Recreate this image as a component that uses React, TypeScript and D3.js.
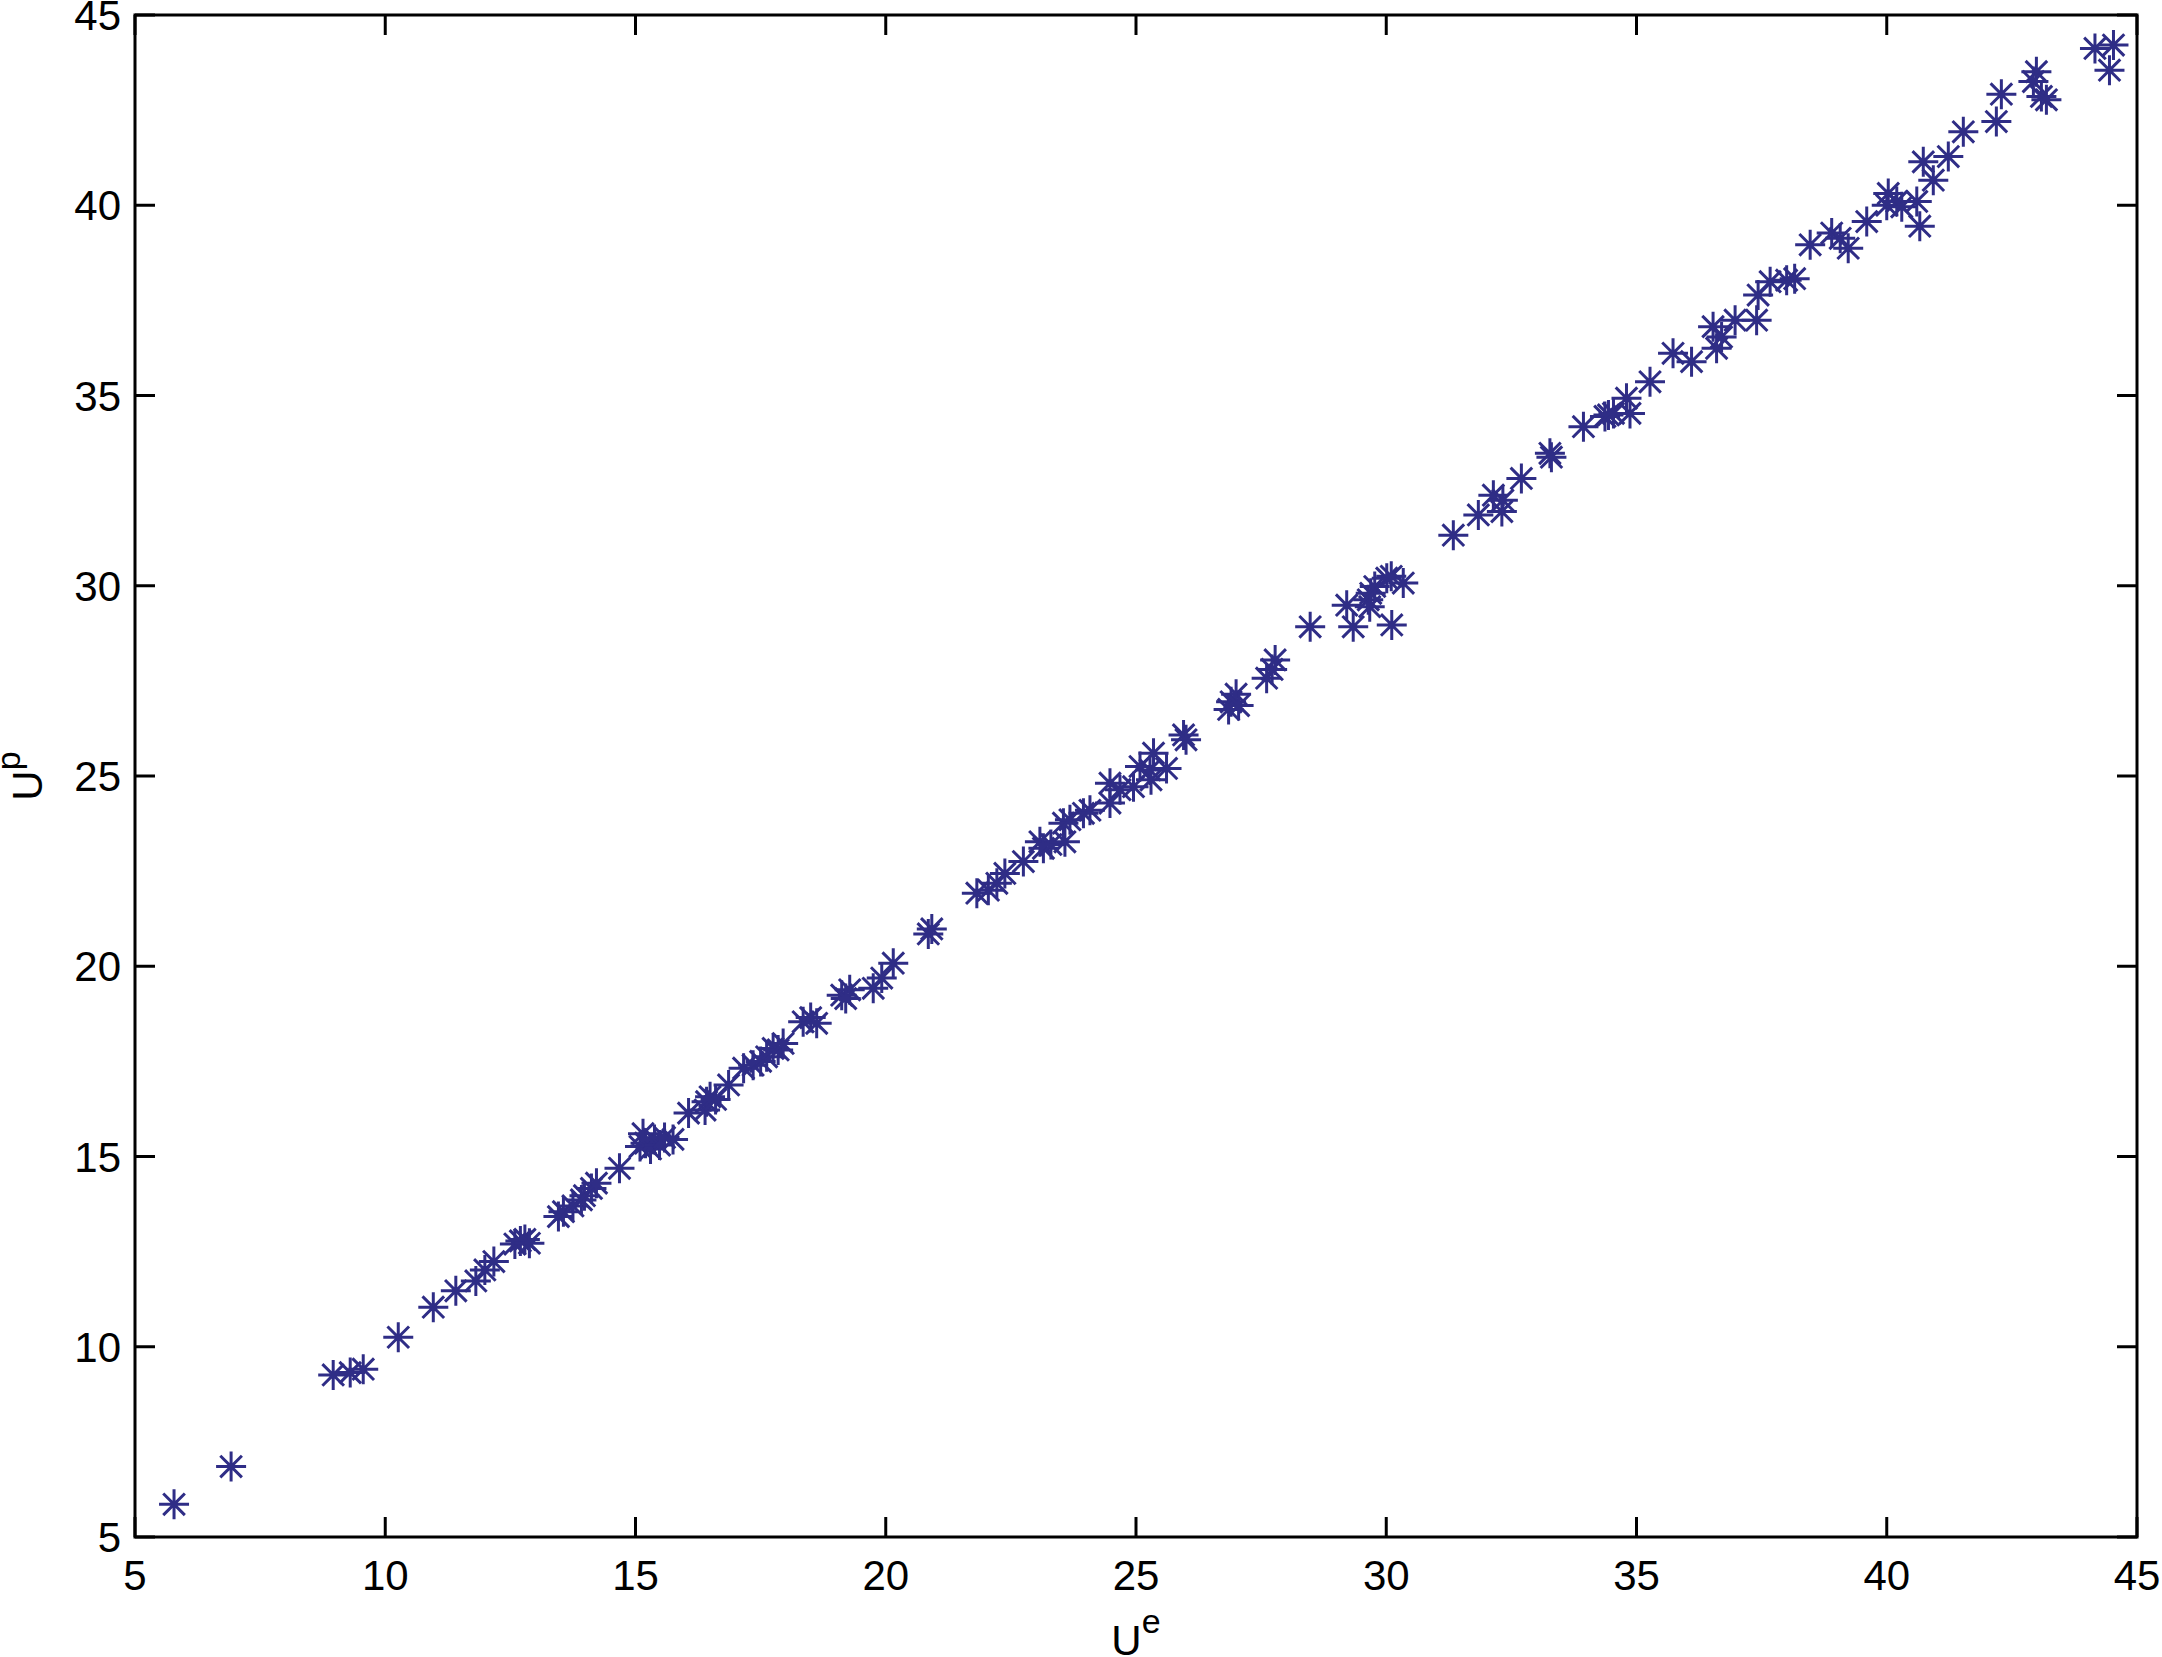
import React from "react";
import * as d3 from "d3";

const ue: number[] = [
  5.78, 6.92, 8.96, 9.30, 9.56, 10.26, 10.96, 11.41, 11.81, 11.99, 12.17, 12.59, 12.70, 12.79, 12.88,
  13.46, 13.56, 13.75, 13.92, 13.98, 14.12, 14.22, 14.68,
  15.09, 15.15, 15.20, 15.30, 15.38, 15.48, 15.58, 15.75, 16.06, 16.39, 16.42, 16.49, 16.60, 16.86,
  17.16, 17.35, 17.50, 17.62, 17.75, 17.85, 17.95, 18.35, 18.50, 18.62, 19.12, 19.28, 19.20, 19.75,
  19.92, 20.15, 20.85, 20.92, 21.82, 22.05, 22.22, 22.38, 22.75, 23.08, 23.15, 23.30, 23.58, 23.55,
  23.68, 23.95, 24.08, 24.48, 24.48, 24.68, 24.95, 25.08, 25.28, 25.35, 25.30, 25.61, 25.95, 26.00,
  26.85, 26.90, 27.00, 27.05, 27.61, 27.72, 27.78, 28.48, 29.21, 29.34, 29.64, 29.67, 29.69, 29.77,
  30.01, 30.10, 30.34, 30.11, 31.34, 31.84, 32.14, 32.31, 32.33, 32.70, 33.27, 33.30, 33.94, 34.37,
  34.44, 34.54, 34.80, 34.87, 35.27, 35.73, 36.10, 36.53, 36.60, 36.70, 36.97, 37.40, 37.43, 37.67,
  38.00, 38.16, 38.47, 38.90, 39.07, 39.23, 39.60, 40.03, 40.00, 40.20, 40.30, 40.60, 40.66, 40.73,
  40.93, 41.23, 41.53, 42.19, 42.29, 42.99, 42.93, 43.09, 43.19, 44.16, 44.53, 44.45,
];

const up: number[] = [
  5.86, 6.85, 9.26, 9.32, 9.41, 10.25, 11.04, 11.47, 11.73, 12.02, 12.24, 12.70, 12.78, 12.82, 12.72,
  13.42, 13.55, 13.70, 13.86, 13.97, 14.16, 14.30, 14.69,
  15.26, 15.60, 15.35, 15.20, 15.45, 15.30, 15.50, 15.45, 16.14, 16.22, 16.44, 16.57, 16.50, 16.88,
  17.32, 17.40, 17.50, 17.62, 17.84, 17.80, 17.97, 18.54, 18.65, 18.50, 19.24, 19.38, 19.15, 19.42,
  19.69, 20.08, 20.85, 20.98, 21.92, 22.00, 22.18, 22.44, 22.75, 23.27, 23.10, 23.20, 23.27, 23.76,
  23.85, 24.02, 24.10, 24.81, 24.29, 24.64, 24.72, 25.25, 25.16, 25.60, 24.90, 25.20, 26.08, 25.95,
  26.75, 26.95, 27.15, 26.85, 27.57, 27.80, 28.05, 28.92, 29.49, 28.92, 29.63, 29.45, 29.80, 29.98,
  30.20, 30.25, 30.07, 28.97, 31.33, 31.86, 32.38, 31.95, 32.25, 32.82, 33.48, 33.38, 34.18, 34.45,
  34.49, 34.53, 34.93, 34.53, 35.36, 36.11, 35.89, 36.81, 36.24, 36.54, 36.98, 36.98, 37.64, 37.99,
  38.03, 38.07, 38.96, 39.27, 39.13, 38.87, 39.57, 40.31, 40.00, 40.10, 39.96, 40.10, 39.45, 41.14,
  40.66, 41.28, 41.93, 42.20, 42.92, 43.51, 43.25, 42.86, 42.77, 44.12, 44.21, 43.55,
];

const xTicks: number[] = [5, 10, 15, 20, 25, 30, 35, 40, 45];
const yTicks: number[] = [5, 10, 15, 20, 25, 30, 35, 40, 45];
const xLabel = "U";
const xLabelSup = "e";
const yLabel = "U";
const yLabelSup = "p";

const W = 2162;
const H = 1657;
const L = 135;
const R = 2137;
const T = 15;
const B = 1537;
const COLOR = "#2f2d86";
const FONT = "Arial, 'Liberation Sans', Helvetica, sans-serif";

export default function App() {
  const x = d3.scaleLinear().domain([5, 45]).range([L, R]);
  const y = d3.scaleLinear().domain([5, 45]).range([B, T]);
  const r = 15;
  const d = 10.8;
  const star = `M${-r},0H${r}M0,${-r}V${r}M${-d},${-d}L${d},${d}M${-d},${d}L${d},${-d}`;
  const tl = 20;
  const pts = ue.map((u, i) => [u, up[i]] as [number, number]);

  return (
    <svg
      width={W}
      height={H}
      style={{ position: "absolute", left: 0, top: 0, background: "#fff" }}
      fontFamily={FONT}
    >
      <rect x={0} y={0} width={W} height={H} fill="#fff" />
      <g>
        {pts.map(([u, v], i) => (
          <path
            key={i}
            d={star}
            transform={`translate(${x(u)},${y(v)})`}
            stroke={COLOR}
            strokeWidth={3}
            fill="none"
          />
        ))}
      </g>
      <g stroke="#000" strokeWidth={3}>
        {xTicks.map((t) => (
          <g key={"xt" + t}>
            <line x1={x(t)} x2={x(t)} y1={B} y2={B - tl} />
            <line x1={x(t)} x2={x(t)} y1={T} y2={T + tl} />
          </g>
        ))}
        {yTicks.map((t) => (
          <g key={"yt" + t}>
            <line x1={L} x2={L + tl} y1={y(t)} y2={y(t)} />
            <line x1={R} x2={R - tl} y1={y(t)} y2={y(t)} />
          </g>
        ))}
        <rect x={L} y={T} width={R - L} height={B - T} fill="none" />
      </g>
      <g fontSize={42} fill="#000">
        {xTicks.map((t) => (
          <text key={"xl" + t} x={x(t)} y={1590} textAnchor="middle">
            {t}
          </text>
        ))}
        {yTicks.map((t) => (
          <text key={"yl" + t} x={121} y={y(t) + 15} textAnchor="end">
            {t}
          </text>
        ))}
      </g>
      <text x={(L + R) / 2} y={1655} textAnchor="middle" fontSize={42} fill="#000">
        <tspan>{xLabel}</tspan>
        <tspan dy={-22} fontSize={34}>{xLabelSup}</tspan>
      </text>
      <text
        transform={`translate(42,${(T + B) / 2}) rotate(-90)`}
        textAnchor="middle"
        fontSize={42}
        fill="#000"
      >
        <tspan>{yLabel}</tspan>
        <tspan dy={-22} fontSize={34}>{yLabelSup}</tspan>
      </text>
    </svg>
  );
}
